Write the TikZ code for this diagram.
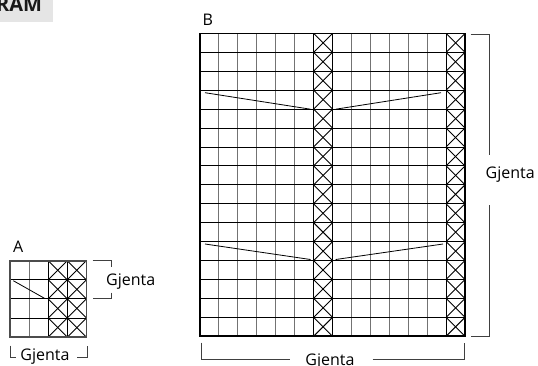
\documentclass[tikz,border=0pt]{standalone}
\usepackage{fontspec}
\setmainfont{Open Sans}
\begin{document}
\begin{tikzpicture}[x=1pt,y=-1pt,
  lbl/.style={inner sep=0pt, font=\fontsize{16}{19}\selectfont, text=black},
  title/.style={inner sep=0pt, font=\fontsize{20}{22}\selectfont\bfseries, text=black!90},
  gridv/.style={draw=black!55, line width=1.1pt},
  gridk/.style={draw=black, line width=0.9pt},
  xline/.style={draw=black, line width=0.9pt},
  frame/.style={draw=black, line width=1.6pt},
  brk/.style={draw=black!75, line width=0.8pt},
  diag/.style={draw=black, line width=0.8pt}]
\useasboundingbox (0,0) rectangle (538,365);
\clip (0,0) rectangle (538,365);
\fill[white] (0,0) rectangle (538,365);
% title
\fill[black!10] (0,0) rectangle (52.7,21.7);
\node[title, anchor=base east] (ttl) at (42.3,11) {RAM};
% ---------- grid B ----------
\def\bx{200}\def\by{33.4}\def\bc{18.93}
\foreach \i in {1,...,5,8,9,10,11,12}
  \draw[gridv] ({\bx+\i*\bc},\by) -- ({\bx+\i*\bc},{\by+16*\bc});
\foreach \j in {1,...,15}
  \draw[gridk] (\bx,{\by+\j*\bc}) -- ({\bx+14*\bc},{\by+\j*\bc});
\foreach \i in {6,7,13}
  \draw[gridk] ({\bx+\i*\bc},\by) -- ({\bx+\i*\bc},{\by+16*\bc});
\foreach \j in {0,...,15}
  \foreach \i in {6,13}{
    \draw[xline] ({\bx+\i*\bc},{\by+\j*\bc}) -- ++(\bc,\bc);
    \draw[xline] ({\bx+(\i+1)*\bc},{\by+\j*\bc}) -- ++(-\bc,\bc);
  }
\draw[frame] (\bx,\by) rectangle ({\bx+14*\bc},{\by+16*\bc});
% diagonals B
\coordinate (b1a) at (205,92.7);  \coordinate (b1b) at (310.5,109.2);
\coordinate (b1c) at (335.7,109.2); \coordinate (b1d) at (441,92.7);
\coordinate (b2a) at (205,244);   \coordinate (b2b) at (310.5,259.5);
\coordinate (b2c) at (335.7,259.5); \coordinate (b2d) at (443,244);
\draw[diag] (b1a) -- (b1b);
\draw[diag] (b1c) -- (b1d);
\draw[diag] (b2a) -- (b2b);
\draw[diag] (b2c) -- (b2d);
\node[lbl, anchor=base west] (labB) at (202.5,25) {B};
% right bracket B
\node[lbl, anchor=west] (gjBr) at (485.5,175) {Gjenta};
\draw[brk] (470.7,34) -- (489.3,34) -- (489.3,155);
\draw[brk] (489.3,205) -- (489.3,336.5) -- (470.7,336.5);
% bottom bracket B
\node[lbl, anchor=base] (gjBb) at (330,365) {Gjenta};
\draw[brk] (201,342.7) -- (201,359.5) -- (290,359.5);
\draw[brk] (372.7,359.5) -- (464.7,359.5) -- (464.7,342.7);
% ---------- grid A ----------
\def\ax{10}\def\ay{260.7}\def\ac{19.1}
\foreach \i in {1}
  \draw[gridv] ({\ax+\i*\ac},\ay) -- ({\ax+\i*\ac},{\ay+4*\ac});
\foreach \j in {1,2,3}
  \draw[gridk] (\ax,{\ay+\j*\ac}) -- ({\ax+4*\ac},{\ay+\j*\ac});
\foreach \i in {2,3}
  \draw[gridk] ({\ax+\i*\ac},\ay) -- ({\ax+\i*\ac},{\ay+4*\ac});
\foreach \j in {0,...,3}
  \foreach \i in {2,3}{
    \draw[xline] ({\ax+\i*\ac},{\ay+\j*\ac}) -- ++(\ac,\ac);
    \draw[xline] ({\ax+(\i+1)*\ac},{\ay+\j*\ac}) -- ++(-\ac,\ac);
  }
\draw[frame, draw=black!70] (\ax,\ay) rectangle ({\ax+4*\ac},{\ay+4*\ac});
\coordinate (a1a) at (13.3,280.7); \coordinate (a1b) at (45,298.6);
\draw[diag] (a1a) -- (a1b);
\node[lbl, anchor=base west] (labA) at (13,252) {A};
% right bracket A
\node[lbl, anchor=west] (gjAr) at (106,281.7) {Gjenta};
\draw[brk] (92.7,260.7) -- (111,260.7) -- (111,266.5);
\draw[brk] (111,292.7) -- (111,298.6) -- (92.7,298.6);
% bottom bracket A
\node[lbl, anchor=base] (gjAb) at (45,360.5) {Gjenta};
\draw[brk] (10,345.5) -- (10,357) -- (15.5,357);
\draw[brk] (77,357) -- (87.3,357) -- (87.3,345.5);
\end{tikzpicture}
\end{document}
